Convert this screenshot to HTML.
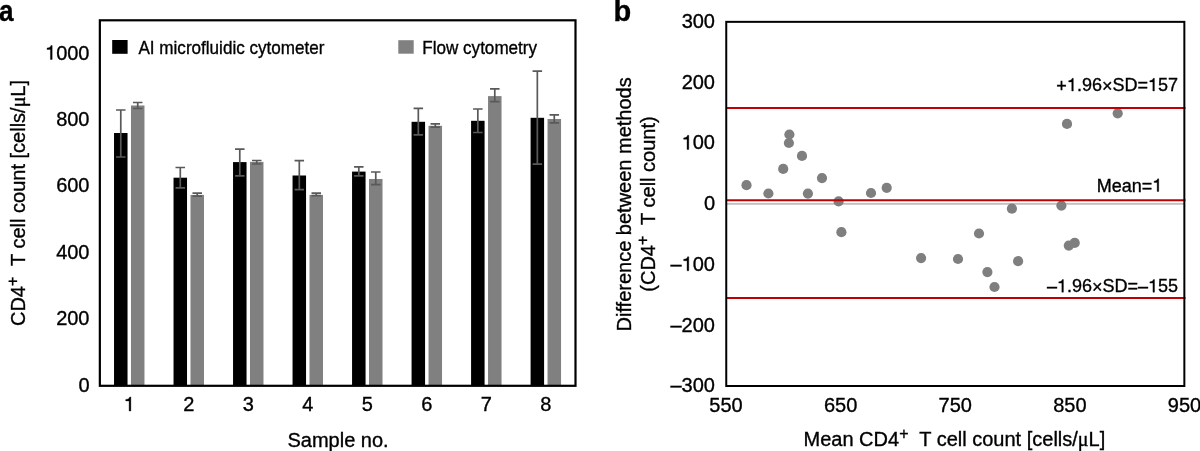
<!DOCTYPE html>
<html><head><meta charset="utf-8"><style>
html,body{margin:0;padding:0;background:#fff;width:1200px;height:451px;overflow:hidden}
svg{display:block;will-change:transform;font-family:"Liberation Sans",sans-serif;}
text{fill:#000;stroke:#000;stroke-width:0.35px}
.o{fill-opacity:0;stroke-opacity:0}
</style></head><body>
<svg width="1200" height="451" viewBox="0 0 1200 451">
<rect x="114.03" y="133.00" width="13.5" height="252.50" fill="#000"/>
<rect x="130.97" y="105.50" width="13.5" height="280.00" fill="#808080"/>
<rect x="173.53" y="177.70" width="13.5" height="207.80" fill="#000"/>
<rect x="190.48" y="194.90" width="13.5" height="190.60" fill="#808080"/>
<rect x="233.04" y="162.10" width="13.5" height="223.40" fill="#000"/>
<rect x="249.99" y="161.90" width="13.5" height="223.60" fill="#808080"/>
<rect x="292.55" y="175.50" width="13.5" height="210.00" fill="#000"/>
<rect x="309.50" y="194.90" width="13.5" height="190.60" fill="#808080"/>
<rect x="352.06" y="171.60" width="13.5" height="213.90" fill="#000"/>
<rect x="369.01" y="179.00" width="13.5" height="206.50" fill="#808080"/>
<rect x="411.57" y="121.80" width="13.5" height="263.70" fill="#000"/>
<rect x="428.53" y="125.80" width="13.5" height="259.70" fill="#808080"/>
<rect x="471.08" y="120.80" width="13.5" height="264.70" fill="#000"/>
<rect x="488.04" y="96.10" width="13.5" height="289.40" fill="#808080"/>
<rect x="530.59" y="117.80" width="13.5" height="267.70" fill="#000"/>
<rect x="547.54" y="119.00" width="13.5" height="266.50" fill="#808080"/>
<path d="M120.78 110.00V157.00M116.03 110.00H125.53M116.03 157.00H125.53" stroke="#595959" stroke-width="1.7" fill="none"/>
<path d="M137.72 102.50V108.50M132.97 102.50H142.47M132.97 108.50H142.47" stroke="#595959" stroke-width="1.7" fill="none"/>
<path d="M180.28 167.50V187.90M175.53 167.50H185.03M175.53 187.90H185.03" stroke="#595959" stroke-width="1.7" fill="none"/>
<path d="M197.23 193.20V196.20M192.48 193.20H201.98M192.48 196.20H201.98" stroke="#595959" stroke-width="1.7" fill="none"/>
<path d="M239.79 149.10V175.80M235.04 149.10H244.54M235.04 175.80H244.54" stroke="#595959" stroke-width="1.7" fill="none"/>
<path d="M256.75 160.50V164.00M252.00 160.50H261.50M252.00 164.00H261.50" stroke="#595959" stroke-width="1.7" fill="none"/>
<path d="M299.30 160.70V189.70M294.55 160.70H304.05M294.55 189.70H304.05" stroke="#595959" stroke-width="1.7" fill="none"/>
<path d="M316.25 193.20V195.60M311.50 193.20H321.00M311.50 195.60H321.00" stroke="#595959" stroke-width="1.7" fill="none"/>
<path d="M358.81 166.90V175.80M354.06 166.90H363.56M354.06 175.80H363.56" stroke="#595959" stroke-width="1.7" fill="none"/>
<path d="M375.76 172.00V184.70M371.01 172.00H380.51M371.01 184.70H380.51" stroke="#595959" stroke-width="1.7" fill="none"/>
<path d="M418.32 108.30V134.90M413.57 108.30H423.07M413.57 134.90H423.07" stroke="#595959" stroke-width="1.7" fill="none"/>
<path d="M435.28 123.80V127.10M430.53 123.80H440.03M430.53 127.10H440.03" stroke="#595959" stroke-width="1.7" fill="none"/>
<path d="M477.83 109.00V132.50M473.08 109.00H482.58M473.08 132.50H482.58" stroke="#595959" stroke-width="1.7" fill="none"/>
<path d="M494.79 88.90V101.60M490.04 88.90H499.54M490.04 101.60H499.54" stroke="#595959" stroke-width="1.7" fill="none"/>
<path d="M537.34 71.20V164.20M532.59 71.20H542.09M532.59 164.20H542.09" stroke="#595959" stroke-width="1.7" fill="none"/>
<path d="M554.29 114.80V122.80M549.54 114.80H559.04M549.54 122.80H559.04" stroke="#595959" stroke-width="1.7" fill="none"/>
<rect x="99.85" y="20.3" width="475.65" height="365.5" fill="none" stroke="#000" stroke-width="2.2"/>
<text x="89.5" y="391.80" text-anchor="end" font-size="20">0</text>
<text x="89.5" y="325.35" text-anchor="end" font-size="20">200</text>
<text x="89.5" y="258.89" text-anchor="end" font-size="20">400</text>
<text x="89.5" y="192.44" text-anchor="end" font-size="20">600</text>
<text x="89.5" y="125.98" text-anchor="end" font-size="20">800</text>
<text x="89.5" y="59.53" text-anchor="end" font-size="20"><tspan class="o">1</tspan>000</text>
<text x="129.25" y="411" text-anchor="middle" font-size="20"><tspan class="o">1</tspan></text>
<text x="188.76" y="411" text-anchor="middle" font-size="20">2</text>
<text x="248.27" y="411" text-anchor="middle" font-size="20">3</text>
<text x="307.78" y="411" text-anchor="middle" font-size="20">4</text>
<text x="367.29" y="411" text-anchor="middle" font-size="20">5</text>
<text x="426.80" y="411" text-anchor="middle" font-size="20">6</text>
<text x="486.31" y="411" text-anchor="middle" font-size="20">7</text>
<text x="545.82" y="411" text-anchor="middle" font-size="20">8</text>
<rect x="112.2" y="40" width="15.4" height="13.8" fill="#000"/>
<text transform="translate(138.4 53.8) scale(0.95 1)" font-size="18">AI microfluidic cytometer</text>
<rect x="398.3" y="40.2" width="15.4" height="13.5" fill="#808080"/>
<text transform="translate(422.2 53.8) scale(0.95 1)" font-size="18">Flow cytometry</text>
<text x="338.1" y="447" text-anchor="middle" font-size="20">Sample no.</text>
<text transform="translate(25 203) rotate(-90)" text-anchor="middle" font-size="20">CD4<tspan dy="-6.6" font-size="16">+</tspan><tspan dy="6.6" xml:space="preserve">  T cell count [cells/<tspan font-family="Liberation Serif">&#956;</tspan>L]</tspan></text>
<text transform="translate(-0.9 20.8) scale(0.9 1)" font-size="29" font-weight="bold">a</text>
<line x1="726" y1="203.8" x2="1184" y2="203.8" stroke="#bfbfbf" stroke-width="1.8"/>
<circle cx="746.5" cy="185.2" r="5.1" fill="#7f7f7f"/>
<circle cx="768.4" cy="193.5" r="5.1" fill="#7f7f7f"/>
<circle cx="783.2" cy="168.9" r="5.1" fill="#7f7f7f"/>
<circle cx="789.4" cy="134.5" r="5.1" fill="#7f7f7f"/>
<circle cx="788.9" cy="143.0" r="5.1" fill="#7f7f7f"/>
<circle cx="802" cy="155.9" r="5.1" fill="#7f7f7f"/>
<circle cx="822" cy="178.1" r="5.1" fill="#7f7f7f"/>
<circle cx="807.9" cy="193.6" r="5.1" fill="#7f7f7f"/>
<circle cx="838.6" cy="201.4" r="5.1" fill="#7f7f7f"/>
<circle cx="841.4" cy="232.2" r="5.1" fill="#7f7f7f"/>
<circle cx="871.0" cy="193.0" r="5.1" fill="#7f7f7f"/>
<circle cx="886.7" cy="187.8" r="5.1" fill="#7f7f7f"/>
<circle cx="921.1" cy="258.1" r="5.1" fill="#7f7f7f"/>
<circle cx="958.0" cy="259.0" r="5.1" fill="#7f7f7f"/>
<circle cx="979.0" cy="233.5" r="5.1" fill="#7f7f7f"/>
<circle cx="987.4" cy="272.1" r="5.1" fill="#7f7f7f"/>
<circle cx="994.5" cy="287.0" r="5.1" fill="#7f7f7f"/>
<circle cx="1011.9" cy="208.7" r="5.1" fill="#7f7f7f"/>
<circle cx="1061.4" cy="205.6" r="5.1" fill="#7f7f7f"/>
<circle cx="1067.0" cy="123.9" r="5.1" fill="#7f7f7f"/>
<circle cx="1117.7" cy="113.3" r="5.1" fill="#7f7f7f"/>
<circle cx="1068.8" cy="245.6" r="5.1" fill="#7f7f7f"/>
<circle cx="1074.7" cy="242.9" r="5.1" fill="#7f7f7f"/>
<circle cx="1018.1" cy="261.2" r="5.1" fill="#7f7f7f"/>
<line x1="726" y1="108.1" x2="1185.5" y2="108.1" stroke="#c00000" stroke-width="2"/>
<line x1="726" y1="200.2" x2="1185.5" y2="200.2" stroke="#c00000" stroke-width="2"/>
<line x1="726" y1="298.0" x2="1185.5" y2="298.0" stroke="#c00000" stroke-width="2"/>
<rect x="726.25" y="21.85" width="458.1" height="364.15" fill="none" stroke="#000" stroke-width="2"/>
<text x="715" y="28.00" text-anchor="end" font-size="20">300</text>
<text x="715" y="88.70" text-anchor="end" font-size="20">200</text>
<text x="715" y="149.40" text-anchor="end" font-size="20"><tspan class="o">1</tspan>00</text>
<text x="715" y="210.10" text-anchor="end" font-size="20">0</text>
<text x="715" y="270.80" text-anchor="end" font-size="20">–<tspan class="o">1</tspan>00</text>
<text x="715" y="331.50" text-anchor="end" font-size="20">–200</text>
<text x="715" y="392.20" text-anchor="end" font-size="20">–300</text>
<text x="726.00" y="411.5" text-anchor="middle" font-size="20">550</text>
<text x="840.62" y="411.5" text-anchor="middle" font-size="20">650</text>
<text x="955.25" y="411.5" text-anchor="middle" font-size="20">750</text>
<text x="1069.88" y="411.5" text-anchor="middle" font-size="20">850</text>
<text x="1184.50" y="411.5" text-anchor="middle" font-size="20">950</text>
<text x="1178" y="91" text-anchor="end" font-size="18"><tspan dy="1.3">+</tspan><tspan dy="-1.3"><tspan class="o">1</tspan>.96</tspan><tspan dy="0.8">×</tspan><tspan dy="-0.8">SD=<tspan class="o">1</tspan>57</tspan></text>
<text x="1162.3" y="191.5" text-anchor="end" font-size="18">Mean=<tspan class="o">1</tspan></text>
<text x="1178.1" y="292.2" text-anchor="end" font-size="18">–<tspan class="o">1</tspan>.96<tspan dy="0.8">×</tspan><tspan dy="-0.8">SD=–<tspan class="o">1</tspan>55</tspan></text>
<text x="954.4" y="445.7" text-anchor="middle" font-size="20">Mean CD4<tspan dy="-6.6" font-size="16">+</tspan><tspan dy="6.6" xml:space="preserve">  T cell count [cells/<tspan font-family="Liberation Serif">&#956;</tspan>L]</tspan></text>
<text transform="translate(631 204.4) rotate(-90)" text-anchor="middle" font-size="20">Difference between methods</text>
<text transform="translate(654.5 204) rotate(-90)" text-anchor="middle" font-size="20">(CD4<tspan dy="-6.6" font-size="16">+</tspan><tspan dy="6.6" xml:space="preserve">  T cell count)</tspan></text>
<text x="613.5" y="20.8" font-size="29" font-weight="bold">b</text>
<path transform="translate(45.000 59.530) scale(0.0200 -0.0200)" d="M359 0L359 703L297 703C282 640 240 590 101 575L101 505L271 505L271 0Z" fill="#000" stroke="#000" stroke-width="17.50"/>
<path transform="translate(123.688 411.000) scale(0.0200 -0.0200)" d="M359 0L359 703L297 703C282 640 240 590 101 575L101 505L271 505L271 0Z" fill="#000" stroke="#000" stroke-width="17.50"/>
<path transform="translate(681.625 149.400) scale(0.0200 -0.0200)" d="M359 0L359 703L297 703C282 640 240 590 101 575L101 505L271 505L271 0Z" fill="#000" stroke="#000" stroke-width="17.50"/>
<path transform="translate(681.625 270.800) scale(0.0200 -0.0200)" d="M359 0L359 703L297 703C282 640 240 590 101 575L101 505L271 505L271 0Z" fill="#000" stroke="#000" stroke-width="17.50"/>
<path transform="translate(1066.859 91.000) scale(0.0180 -0.0180)" d="M359 0L359 703L297 703C282 640 240 590 101 575L101 505L271 505L271 0Z" fill="#000" stroke="#000" stroke-width="19.44"/>
<path transform="translate(1147.953 91.000) scale(0.0180 -0.0180)" d="M359 0L359 703L297 703C282 640 240 590 101 575L101 505L271 505L271 0Z" fill="#000" stroke="#000" stroke-width="19.44"/>
<path transform="translate(1152.284 191.500) scale(0.0180 -0.0180)" d="M359 0L359 703L297 703C282 640 240 590 101 575L101 505L271 505L271 0Z" fill="#000" stroke="#000" stroke-width="19.44"/>
<path transform="translate(1056.959 292.200) scale(0.0180 -0.0180)" d="M359 0L359 703L297 703C282 640 240 590 101 575L101 505L271 505L271 0Z" fill="#000" stroke="#000" stroke-width="19.44"/>
<path transform="translate(1148.053 292.200) scale(0.0180 -0.0180)" d="M359 0L359 703L297 703C282 640 240 590 101 575L101 505L271 505L271 0Z" fill="#000" stroke="#000" stroke-width="19.44"/>
</svg>
</body></html>
